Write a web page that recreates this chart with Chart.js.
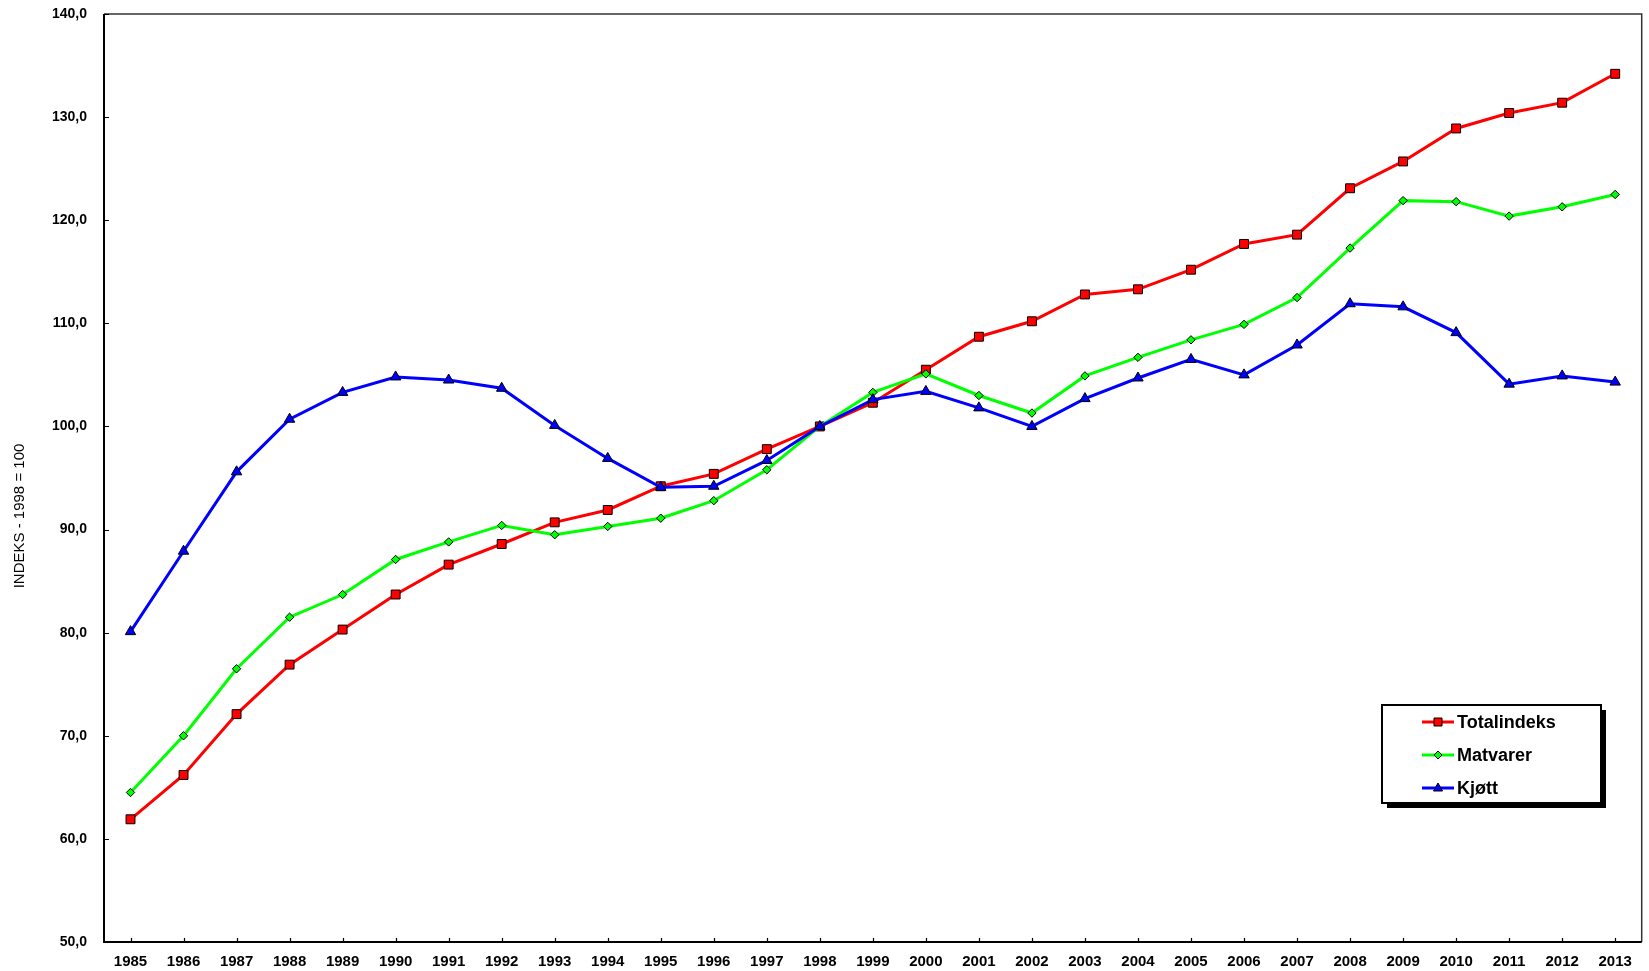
<!DOCTYPE html>
<html>
<head>
<meta charset="utf-8">
<script src="https://cdn.jsdelivr.net/npm/chart.js@4/dist/chart.umd.min.js"></script>
<style>
  html, body { margin: 0; padding: 0; background: #fff; }
  #wrap { width: 1649px; height: 971px; }
</style>
</head>
<body>
<div id="wrap"><canvas id="c" width="1649" height="971"></canvas></div>
<script>
const years = ['1985','1986','1987','1988','1989','1990','1991','1992','1993','1994','1995','1996','1997','1998','1999','2000','2001','2002','2003','2004','2005','2006','2007','2008','2009','2010','2011','2012','2013'];
const totalindeks = [61.9,66.2,72.1,76.9,80.3,83.7,86.6,88.6,90.7,91.9,94.2,95.4,97.8,100.0,102.3,105.5,108.7,110.2,112.8,113.3,115.2,117.7,118.6,123.1,125.7,128.9,130.4,131.4,134.2];
const matvarer = [64.5,70.0,76.5,81.5,83.7,87.1,88.8,90.4,89.5,90.3,91.1,92.8,95.8,100.0,103.3,105.1,103.0,101.3,104.9,106.7,108.4,109.9,112.5,117.3,121.9,121.8,120.4,121.3,122.5];
const kjott = [80.1,87.9,95.6,100.7,103.3,104.8,104.5,103.7,100.1,96.9,94.1,94.2,96.7,100.0,102.6,103.4,101.8,100.0,102.7,104.7,106.5,105.0,107.9,111.9,111.6,109.1,104.1,104.9,104.3];
const seriesNames = ['Totalindeks','Matvarer','Kjøtt'];
const yAxisTitle = 'INDEKS - 1998 = 100';
const yMin = 50, yMax = 140, yStep = 10;

const FONT = '"Liberation Sans", Arial, sans-serif';

const overlay = {
  id: 'overlay',
  afterDraw(chart) {
    const ctx = chart.ctx;
    const a = chart.chartArea;
    const xs = chart.scales.x, ys = chart.scales.y;
    ctx.save();
    // frame
    ctx.strokeStyle = '#333';
    ctx.lineWidth = 1.5;
    ctx.beginPath();
    ctx.moveTo(a.left, a.top); ctx.lineTo(a.right, a.top); ctx.lineTo(a.right, a.bottom);
    ctx.stroke();
    ctx.strokeStyle = '#000';
    ctx.lineWidth = 2;
    ctx.beginPath();
    ctx.moveTo(a.left, a.top); ctx.lineTo(a.left, a.bottom); ctx.lineTo(a.right, a.bottom);
    ctx.stroke();
    // inside ticks
    ctx.lineWidth = 1.2;
    ctx.beginPath();
    ys.ticks.forEach((t, i) => {
      const y = Math.round(ys.getPixelForTick(i)) + 0.5;
      ctx.moveTo(a.left, y); ctx.lineTo(a.left + 5, y);
    });
    xs.ticks.forEach((t, i) => {
      const x = Math.round(xs.getPixelForTick(i)) + 0.5;
      ctx.moveTo(x, a.bottom); ctx.lineTo(x, a.bottom - 4);
    });
    ctx.stroke();
    // y axis title
    ctx.fillStyle = '#000';
    ctx.font = '15px ' + FONT;
    ctx.textAlign = 'center';
    ctx.textBaseline = 'middle';
    ctx.translate(20, 516);
    ctx.rotate(-Math.PI / 2);
    ctx.fillText(yAxisTitle, 0, 0);
    ctx.restore();

    // legend
    ctx.save();
    const bx = 1382, by = 705, bw = 219, bh = 98;
    ctx.fillStyle = '#000';
    ctx.fillRect(bx + 5, by + 5, bw, bh);
    ctx.fillStyle = '#fff';
    ctx.fillRect(bx, by, bw, bh);
    ctx.strokeStyle = '#000';
    ctx.lineWidth = 2;
    ctx.strokeRect(bx, by, bw, bh);
    const rows = [722, 755, 788];
    chart.data.datasets.slice().sort((p, q) => p.legendIndex - q.legendIndex).forEach((ds, i) => {
      const y = rows[i];
      ctx.strokeStyle = ds.borderColor;
      ctx.lineWidth = 3;
      ctx.beginPath();
      ctx.moveTo(1422, y); ctx.lineTo(1454, y);
      ctx.stroke();
      ctx.fillStyle = ds.pointBackgroundColor;
      ctx.strokeStyle = '#000';
      ctx.lineWidth = 1;
      const cx = 1438;
      ctx.beginPath();
      if (ds.pointStyle === 'rect') {
        ctx.rect(cx - 4, y - 4, 8, 8);
      } else if (ds.pointStyle === 'rectRot') {
        ctx.moveTo(cx - 4, y); ctx.lineTo(cx, y - 4); ctx.lineTo(cx + 4, y); ctx.lineTo(cx, y + 4); ctx.closePath();
      } else {
        ctx.moveTo(cx, y - 5); ctx.lineTo(cx + 4.5, y + 3); ctx.lineTo(cx - 4.5, y + 3); ctx.closePath();
      }
      ctx.fill(); ctx.stroke();
      ctx.fillStyle = '#000';
      ctx.font = 'bold 18px ' + FONT;
      ctx.textAlign = 'left';
      ctx.textBaseline = 'middle';
      ctx.fillText(ds.label, 1457, y + 1);
    });
    ctx.restore();
  }
};

new Chart(document.getElementById('c'), {
  type: 'line',
  data: {
    labels: years,
    datasets: [
      { label: seriesNames[0], data: totalindeks, legendIndex: 0, order: 2,
        borderColor: '#FF0000', backgroundColor: '#FF0000', borderWidth: 3,
        pointStyle: 'rect', pointRadius: 6.3, pointBackgroundColor: '#FF0000',
        pointBorderColor: '#000', pointBorderWidth: 1, tension: 0 },
      { label: seriesNames[1], data: matvarer, legendIndex: 1, order: 1,
        borderColor: '#00FF00', backgroundColor: '#00FF00', borderWidth: 3,
        pointStyle: 'rectRot', pointRadius: 4.2, pointBackgroundColor: '#00FF00',
        pointBorderColor: '#000', pointBorderWidth: 1, tension: 0 },
      { label: seriesNames[2], data: kjott, legendIndex: 2, order: 0,
        borderColor: '#0000FF', backgroundColor: '#0000FF', borderWidth: 3,
        pointStyle: 'triangle', pointRadius: 6, pointBackgroundColor: '#0000FF',
        pointBorderColor: '#000', pointBorderWidth: 1, tension: 0 }
    ]
  },
  options: {
    responsive: false,
    animation: false,
    devicePixelRatio: 1,
    layout: { padding: { left: 0, top: 14, right: 2, bottom: 0 } },
    plugins: { legend: { display: false }, tooltip: { enabled: false }, title: { display: false } },
    scales: {
      x: {
        type: 'category',
        offset: true,
        grid: { display: false, drawTicks: false, offset: false },
        border: { display: false },
        ticks: { color: '#000', font: { family: FONT, size: 15, weight: 'bold' }, padding: 11, maxRotation: 0, autoSkip: false },
        afterFit(s) { s.height = 29; s.paddingLeft = 0; s.paddingRight = 0; }
      },
      y: {
        min: yMin, max: yMax,
        grid: { display: false, drawTicks: false },
        border: { display: false },
        ticks: { stepSize: yStep, color: '#000', font: { family: FONT, size: 14, weight: 'bold' }, padding: 17,
          callback: v => v.toFixed(1).replace('.', ',') },
        afterFit(s) { s.width = 104; s.paddingTop = 0; s.paddingBottom = 0; }
      }
    }
  },
  plugins: [overlay]
});
</script>
</body>
</html>
